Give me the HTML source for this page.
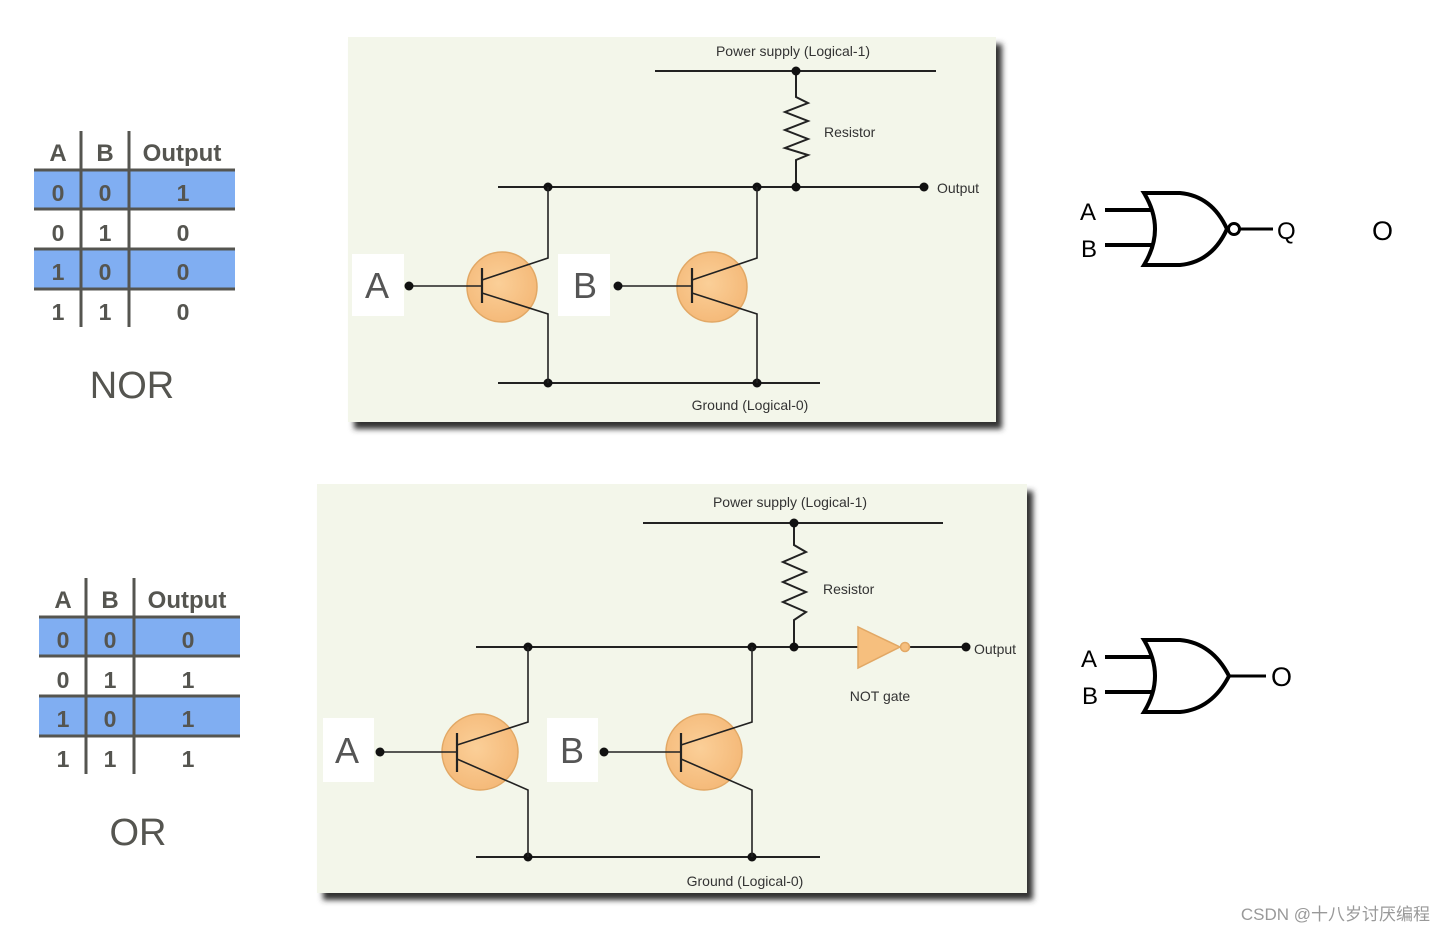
<!DOCTYPE html>
<html><head><meta charset="utf-8"><style>
html,body{margin:0;padding:0;background:#fff;}
svg{display:block;}
</style></head><body>
<svg width="1446" height="933" viewBox="0 0 1446 933" xmlns="http://www.w3.org/2000/svg" font-family="Liberation Sans, sans-serif">
<defs>
<filter id="sh" x="-5%" y="-5%" width="115%" height="120%"><feGaussianBlur stdDeviation="3"/></filter>
<radialGradient id="og" cx="0.45" cy="0.45" r="0.6"><stop offset="0" stop-color="#fbcf98"/><stop offset="1" stop-color="#f4b877"/></radialGradient>
</defs>

<!-- NOR table -->
<g>
<rect x="34" y="170" width="201" height="39" fill="#80aef2"/>
<rect x="34" y="249" width="201" height="40" fill="#80aef2"/>
<g stroke="#555550" stroke-width="3">
<line x1="34" y1="170" x2="235" y2="170"/><line x1="34" y1="209" x2="235" y2="209"/>
<line x1="34" y1="249" x2="235" y2="249"/><line x1="34" y1="289" x2="235" y2="289"/>
<line x1="81" y1="131" x2="81" y2="327"/><line x1="129" y1="131" x2="129" y2="327"/>
</g>
<g fill="#555550" font-size="24" font-weight="bold" text-anchor="middle">
<text x="58" y="161">A</text><text x="105" y="161">B</text><text x="182" y="161">Output</text>
</g>
<g fill="#555550" font-size="23" font-weight="bold" text-anchor="middle">
<text x="58" y="201">0</text><text x="105" y="201">0</text><text x="183" y="201">1</text>
<text x="58" y="241">0</text><text x="105" y="241">1</text><text x="183" y="241">0</text>
<text x="58" y="280">1</text><text x="105" y="280">0</text><text x="183" y="280">0</text>
<text x="58" y="320">1</text><text x="105" y="320">1</text><text x="183" y="320">0</text>
</g>
<text x="132" y="398" font-size="38" fill="#555550" text-anchor="middle">NOR</text>
</g>

<!-- OR table -->
<g transform="translate(5,447)">
<rect x="34" y="170" width="201" height="39" fill="#80aef2"/>
<rect x="34" y="249" width="201" height="40" fill="#80aef2"/>
<g stroke="#555550" stroke-width="3">
<line x1="34" y1="170" x2="235" y2="170"/><line x1="34" y1="209" x2="235" y2="209"/>
<line x1="34" y1="249" x2="235" y2="249"/><line x1="34" y1="289" x2="235" y2="289"/>
<line x1="81" y1="131" x2="81" y2="327"/><line x1="129" y1="131" x2="129" y2="327"/>
</g>
<g fill="#555550" font-size="24" font-weight="bold" text-anchor="middle">
<text x="58" y="161">A</text><text x="105" y="161">B</text><text x="182" y="161">Output</text>
</g>
<g fill="#555550" font-size="23" font-weight="bold" text-anchor="middle">
<text x="58" y="201">0</text><text x="105" y="201">0</text><text x="183" y="201">0</text>
<text x="58" y="241">0</text><text x="105" y="241">1</text><text x="183" y="241">1</text>
<text x="58" y="280">1</text><text x="105" y="280">0</text><text x="183" y="280">1</text>
<text x="58" y="320">1</text><text x="105" y="320">1</text><text x="183" y="320">1</text>
</g>
<text x="133" y="398" font-size="38" fill="#555550" text-anchor="middle">OR</text>
</g>

<!-- Panel 1 -->
<rect x="354" y="44" width="648" height="385" fill="#333" filter="url(#sh)"/>
<rect x="348" y="37" width="648" height="385" fill="#f3f6ea"/>
<g stroke="#222" stroke-width="2" fill="none">
<line x1="655" y1="71" x2="936" y2="71"/>
<polyline points="796,71 796,97 808,103 785,112 808,121 785,130 808,139 785,148 808,155 796,160 796,187"/>
<line x1="498" y1="187" x2="924" y2="187"/>
<line x1="498" y1="383" x2="820" y2="383"/>
</g>
<g font-size="14" fill="#333">
<text x="793" y="56" text-anchor="middle">Power supply (Logical-1)</text>
<text x="824" y="137">Resistor</text>
<text x="937" y="193">Output</text>
<text x="750" y="410" text-anchor="middle">Ground (Logical-0)</text>
</g>
<g fill="#111">
<circle cx="796" cy="71" r="4.5"/><circle cx="548" cy="187" r="4.5"/><circle cx="757" cy="187" r="4.5"/><circle cx="796" cy="187" r="4.5"/><circle cx="924" cy="187" r="4.5"/>
<circle cx="548" cy="383" r="4.5"/><circle cx="757" cy="383" r="4.5"/>
</g>
<circle cx="502" cy="287" r="35" fill="url(#og)" stroke="#e2a865" stroke-width="1.5"/>
<circle cx="712" cy="287" r="35" fill="url(#og)" stroke="#e2a865" stroke-width="1.5"/>
<rect x="352" y="254" width="52" height="62" fill="#fff"/>
<rect x="558" y="254" width="52" height="62" fill="#fff"/>
<text x="377" y="298" font-size="36" fill="#555" text-anchor="middle">A</text>
<text x="585" y="298" font-size="36" fill="#555" text-anchor="middle">B</text>
<g stroke="#222" stroke-width="1.6" fill="none">
<line x1="409" y1="286" x2="482" y2="286"/><line x1="482" y1="268" x2="482" y2="303" stroke-width="2.2"/>
<polyline points="482,280 548,258 548,187"/><polyline points="482,293 548,314 548,383"/>
<line x1="618" y1="286" x2="692" y2="286"/><line x1="692" y1="268" x2="692" y2="303" stroke-width="2.2"/>
<polyline points="692,280 757,258 757,187"/><polyline points="692,293 757,314 757,383"/>
</g>
<circle cx="409" cy="286" r="4.5" fill="#111"/><circle cx="618" cy="286" r="4.5" fill="#111"/>

<!-- Panel 2 -->
<rect x="323" y="491" width="710" height="409" fill="#333" filter="url(#sh)"/>
<rect x="317" y="484" width="710" height="409" fill="#f3f6ea"/>
<g stroke="#222" stroke-width="2" fill="none">
<line x1="643" y1="523" x2="943" y2="523"/>
<polyline points="794,523 794,545 806,552 783,562 806,572 783,582 806,592 783,602 806,612 794,620 794,647"/>
<line x1="476" y1="647" x2="858" y2="647"/>
<line x1="910" y1="647" x2="966" y2="647"/>
<line x1="476" y1="857" x2="820" y2="857"/>
</g>
<polygon points="858,627 858,668 900,647" fill="#f6bf7e" stroke="#e2a865" stroke-width="1.5"/>
<circle cx="905" cy="647" r="4.5" fill="#f6bf7e" stroke="#e2a865" stroke-width="1.5"/>
<g font-size="14" fill="#333">
<text x="790" y="507" text-anchor="middle">Power supply (Logical-1)</text>
<text x="823" y="594">Resistor</text>
<text x="974" y="654">Output</text>
<text x="880" y="701" text-anchor="middle">NOT gate</text>
<text x="745" y="886" text-anchor="middle">Ground (Logical-0)</text>
</g>
<g fill="#111">
<circle cx="794" cy="523" r="4.5"/><circle cx="528" cy="647" r="4.5"/><circle cx="752" cy="647" r="4.5"/><circle cx="794" cy="647" r="4.5"/><circle cx="966" cy="647" r="4.5"/>
<circle cx="528" cy="857" r="4.5"/><circle cx="752" cy="857" r="4.5"/>
</g>
<circle cx="480" cy="752" r="38" fill="url(#og)" stroke="#e2a865" stroke-width="1.5"/>
<circle cx="704" cy="752" r="38" fill="url(#og)" stroke="#e2a865" stroke-width="1.5"/>
<rect x="323" y="718" width="51" height="64" fill="#fff"/>
<rect x="547" y="718" width="51" height="64" fill="#fff"/>
<text x="347" y="763" font-size="36" fill="#555" text-anchor="middle">A</text>
<text x="572" y="763" font-size="36" fill="#555" text-anchor="middle">B</text>
<g stroke="#222" stroke-width="1.6" fill="none">
<line x1="380" y1="752" x2="457" y2="752"/><line x1="457" y1="733" x2="457" y2="772" stroke-width="2.2"/>
<polyline points="457,745 528,722 528,647"/><polyline points="457,759 528,790 528,857"/>
<line x1="604" y1="752" x2="681" y2="752"/><line x1="681" y1="733" x2="681" y2="772" stroke-width="2.2"/>
<polyline points="681,745 752,722 752,647"/><polyline points="681,759 752,790 752,857"/>
</g>
<circle cx="380" cy="752" r="4.5" fill="#111"/><circle cx="604" cy="752" r="4.5" fill="#111"/>

<!-- NOR gate symbol -->
<g stroke="#000" stroke-width="4" fill="none">
<line x1="1105" y1="210" x2="1152" y2="210"/><line x1="1105" y1="245" x2="1152" y2="245"/>
<path d="M1144,193 Q1166,229 1144,265 L1180,265 Q1212,262 1227,229 Q1212,196 1180,193 Z"/>
<circle cx="1234" cy="229" r="5.5" stroke-width="3"/>
<line x1="1240" y1="229" x2="1273" y2="229" stroke-width="3"/>
</g>
<g font-size="24" fill="#000">
<text x="1080" y="220">A</text><text x="1081" y="257">B</text><text x="1277" y="239">Q</text>
<text x="1372" y="240" font-size="27">O</text>
</g>
<!-- OR gate symbol -->
<g stroke="#000" stroke-width="4" fill="none">
<line x1="1105" y1="657" x2="1152" y2="657"/><line x1="1105" y1="692" x2="1152" y2="692"/>
<path d="M1144,640 Q1166,676 1144,712 L1180,712 Q1212,709 1229,676 Q1212,643 1180,640 Z"/>
<line x1="1229" y1="676" x2="1266" y2="676" stroke-width="3"/>
</g>
<g font-size="24" fill="#000">
<text x="1081" y="667">A</text><text x="1082" y="704">B</text><text x="1271" y="686" font-size="27">O</text>
</g>

<text x="1430" y="920" font-size="17" fill="#999" text-anchor="end" font-family="Liberation Sans, Noto Sans CJK SC, sans-serif">CSDN @十八岁讨厌编程</text>
</svg>
</body></html>
